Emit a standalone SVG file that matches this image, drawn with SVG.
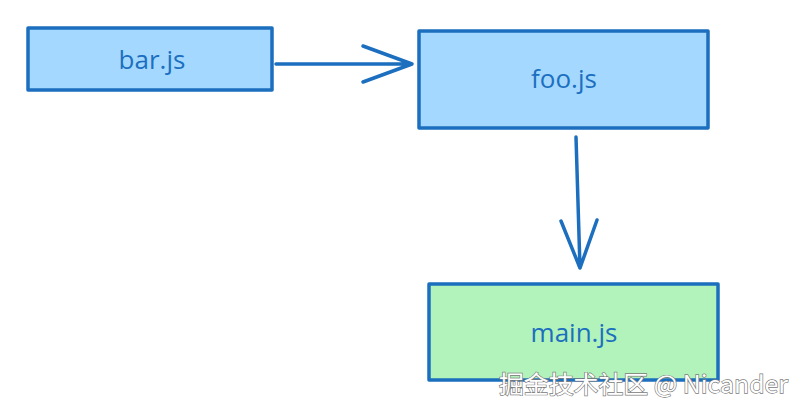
<svg xmlns="http://www.w3.org/2000/svg" width="806" height="413" viewBox="0 0 806 413">
<style>
.box{stroke:#1c6fbf;stroke-width:3.5;stroke-linejoin:round}
.blue{fill:#a5d8ff}
.green{fill:#b2f2bb}
.lbl{font-family:"Open Sans","DejaVu Sans",sans-serif;font-size:26px;fill:#1c6fbf;text-anchor:middle;dominant-baseline:central}
.conn{fill:none;stroke:#1c6fbf;stroke-width:3.5;stroke-linecap:round;stroke-linejoin:round}
.wm{font-family:"Noto Sans CJK SC","Liberation Sans",sans-serif;font-size:24px;fill:#ffffff;stroke:#7a7a7a;stroke-width:1.3;paint-order:stroke}
</style>
<rect width="806" height="413" fill="#ffffff"/>
<g id="bar">
<rect class="box blue" x="28" y="28" width="244" height="62"/>
<text class="lbl" x="152" y="59">bar.js</text>
</g>
<g id="foo">
<rect class="box blue" x="419" y="31" width="289" height="97"/>
<text class="lbl" x="564" y="78">foo.js</text>
</g>
<g id="main">
<rect class="box green" x="429" y="284" width="289" height="96"/>
<text class="lbl" x="574" y="332">main.js</text>
</g>
<g id="connectors">
<path class="conn" d="M276 64 L412 64 M363 46 L412 64 L363 82"/>
<path class="conn" d="M576 137 L580 268 M561 221 L580 268 M597 220 L580 268"/>
</g>
<text class="wm" x="499" y="393" textLength="289" lengthAdjust="spacingAndGlyphs">掘金技术社区 @ Nicander</text>
</svg>
